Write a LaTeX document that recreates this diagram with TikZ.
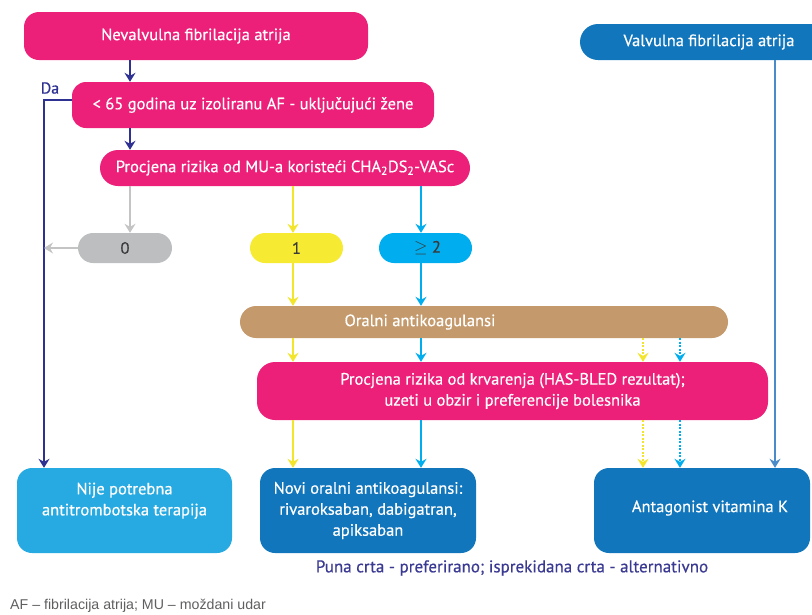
\documentclass[tikz,border=0pt]{standalone}
\usepackage{fontspec}
\setmainfont{PT Sans}[FakeBold=0.45]
\newfontfamily\footfont{Liberation Sans}
\usetikzlibrary{arrows.meta}
\definecolor{cPink}{HTML}{EC1F79}
\definecolor{cNavy}{HTML}{2E3192}
\definecolor{cGray}{HTML}{BCBEC0}
\definecolor{cGrayA}{HTML}{C4C4C4}
\definecolor{cYel}{HTML}{F6EB32}
\definecolor{cYelA}{HTML}{F2E52A}
\definecolor{cCyan}{HTML}{00AEEF}
\definecolor{cTan}{HTML}{C49A6C}
\definecolor{cLight}{HTML}{27AAE1}
\definecolor{cBlue}{HTML}{1276BC}
\definecolor{cVline}{HTML}{4A8BC9}
\definecolor{cText}{HTML}{3A3A3A}
\definecolor{cLegend}{HTML}{3B3A93}
\definecolor{cFoot}{HTML}{5F5F5F}
\tikzset{
  box/.style={draw=none, inner sep=0pt, align=center, font=\fontsize{16.5}{21}\selectfont, text=white},
  pill/.style={box, rounded corners=15pt, text=cText},
  txt/.style={inner sep=0pt, align=center, font=\fontsize{16.5}{21}\selectfont, text=white},
  arr/.style={-{Stealth[length=9pt,width=11pt,inset=3pt]}, line width=1.1pt},
  darr/.style={arr, line width=1.2pt, dash pattern=on 2pt off 1.5pt},
}
\begin{document}
\begin{tikzpicture}[x=1pt,y=-1pt]
\clip (0,0) rectangle (812,614);
\useasboundingbox (0,0) rectangle (812,614);
% x positions of connectors
\coordinate (xa) at (130,0);
\coordinate (xda) at (44,0);
\coordinate (xy) at (293,0);
\coordinate (xb) at (421,0);
\coordinate (xdy) at (643,0);
\coordinate (xdb) at (680,0);
\coordinate (xv) at (775,0);

\node[box, fill=cPink, rounded corners=15pt, minimum width=344pt, minimum height=48pt] (n1) at (196,36) {Nevalvulna fibrilacija atrija};
\node[box, fill=cBlue, rounded corners=18pt, minimum width=250pt, minimum height=36pt] (val) at (705,42) {};
\node[txt] (valt) at (709,42) {Valvulna fibrilacija atrija};
\node[box, fill=cPink, rounded corners=14pt, minimum width=362pt, minimum height=46pt] (n2) at (253,105) {< 65 godina uz izoliranu AF - uključujući žene};
\node[box, fill=cPink, rounded corners=18pt, minimum width=370pt, minimum height=36pt] (n3) at (285,168) {Procjena rizika od MU-a koristeći CHA\textsubscript{2}DS\textsubscript{2}-VASc};

\node[pill, fill=cGray, minimum width=94pt, minimum height=30pt] (p0) at (125,248) {0};
\node[pill, fill=cYel, minimum width=93pt, minimum height=30pt] (p1) at (296.5,248) {1};
\node[pill, fill=cCyan, minimum width=93pt, minimum height=30pt] (p2) at (425.5,248) {\hspace*{4pt}$\geq$ 2};

\node[box, fill=cTan, rounded corners=16pt, minimum width=488pt, minimum height=32pt] (oral) at (484,322) {};
\node[txt] (oralt) at (420,322) {Oralni antikoagulansi};

\node[box, fill=cPink, rounded corners=18pt, minimum width=511pt, minimum height=58pt] (has) at (512.5,391) {Procjena rizika od krvarenja (HAS-BLED rezultat);\\uzeti u obzir i preferencije bolesnika};

\node[box, fill=cLight, rounded corners=15pt, minimum width=215pt, minimum height=85pt] (nije) at (124.5,510.5) {Nije potrebna\\antitrombotska terapija\\[2pt]};
\node[box, fill=cBlue, rounded corners=15pt, minimum width=216pt, minimum height=85pt] (novi) at (368,510.5) {Novi oralni antikoagulansi:\\rivaroksaban, dabigatran,\\apiksaban};
\node[box, fill=cBlue, rounded corners=15pt, minimum width=216pt, minimum height=85pt] (antag) at (702,510.5) {};
\node[txt] (antagt) at (710,508) {Antagonist vitamina K};

% connectors
\draw[arr, cNavy] (n1.south -| xa) -- (n2.north -| xa);
\draw[arr, cNavy] (n2.south -| xa) -- (n3.north -| xa);
\draw[arr, cNavy] ([yshift=5pt]n2.west) -- ([yshift=5pt]n2.west -| xda) -- (nije.north -| xda);
\node[inner sep=0pt, text=cNavy, font=\fontsize{16}{18}\selectfont] (da) at (50,88) {Da};

\draw[arr, cGrayA] (n3.south -| xa) -- (p0.north -| xa);
\draw[arr, cGrayA] (p0.west) -- (p0.west -| xda);

\draw[arr, cYelA] (n3.south -| xy) -- (p1.north -| xy);
\draw[arr, cYelA] (p1.south -| xy) -- (oral.north -| xy);
\draw[arr, cYelA] (oral.south -| xy) -- (has.north -| xy);
\draw[arr, cYelA] (has.south -| xy) -- (novi.north -| xy);

\draw[arr, cCyan] (n3.south -| xb) -- (p2.north -| xb);
\draw[arr, cCyan] (p2.south -| xb) -- (oral.north -| xb);
\draw[arr, cCyan] (oral.south -| xb) -- (has.north -| xb);
\draw[arr, cCyan] (has.south -| xb) -- (novi.north -| xb);

\draw[darr, cYelA] (oral.south -| xdy) -- (has.north -| xdy);
\draw[darr, cYelA] (has.south -| xdy) -- (antag.north -| xdy);
\draw[darr, cCyan] (oral.south -| xdb) -- (has.north -| xdb);
\draw[darr, cCyan] (has.south -| xdb) -- (antag.north -| xdb);

\draw[arr, cVline] (val.south -| xv) -- (antag.north -| xv);

\node[inner sep=0pt, text=cLegend, font=\fontsize{17}{19}\selectfont] (legend) at (512,568) {Puna crta - preferirano; isprekidana crta - alternativno};
\node[inner sep=0pt, anchor=west, text=cFoot, font=\footfont\fontsize{14.2}{16}\selectfont] (foot) at (10,606) {AF – fibrilacija atrija; MU – moždani udar};
\end{tikzpicture}
\end{document}
